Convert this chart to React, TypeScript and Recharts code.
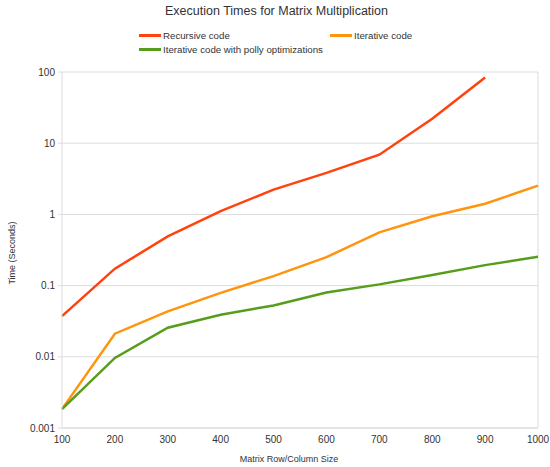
import React from 'react';
import { LineChart, Line, XAxis, YAxis, CartesianGrid, ReferenceLine, Legend } from 'recharts';

const sizes = [100, 200, 300, 400, 500, 600, 700, 800, 900, 1000];
const recursive = [0.0373, 0.173, 0.49, 1.11, 2.23, 3.83, 6.9, 22, 84, null];
const iterative = [0.00184, 0.0211, 0.0435, 0.079, 0.136, 0.251, 0.56, 0.944, 1.41, 2.54];
const polly = [0.00184, 0.00964, 0.0256, 0.039, 0.0527, 0.08, 0.104, 0.1406, 0.194, 0.254];
const yTicks = [0.001, 0.01, 0.1, 1, 10, 100];
const yTickLabels = ['0.001', '0.01', '0.1', '1', '10', '100'];
const seriesNames = ['Recursive code', 'Iterative code', 'Iterative code with polly optimizations'];
const colors = ['#ff420e', '#ff950e', '#579d1c'];

const data = sizes.map((s, i) => ({ size: s, rec: recursive[i], it: iterative[i], pol: polly[i] }));

const FONT = '"Liberation Sans", Arial, sans-serif';

const LegendContent = () => {
  const pos = [
    { left: 139, top: 29 },
    { left: 330, top: 29 },
    { left: 139, top: 43 },
  ];
  return (
    <div style={{ position: 'relative', width: 550, height: 60 }}>
      {seriesNames.map((n, i) => (
        <div key={n} style={{ position: 'absolute', left: pos[i].left, top: pos[i].top, display: 'flex', alignItems: 'center', height: 12, fontFamily: FONT, fontSize: 9.7, color: '#333', whiteSpace: 'nowrap' }}>
          <div style={{ width: 22, height: 3, background: colors[i], marginRight: 2 }} />
          <span>{n}</span>
        </div>
      ))}
    </div>
  );
};

export default function App() {
  return (
    <div style={{ position: 'absolute', left: 0, top: 0, width: 550, height: 467, background: '#fff' }}>
      <div style={{ position: 'absolute', left: 0, top: 3.7, width: 553, textAlign: 'center', fontFamily: FONT, fontSize: 12.5, lineHeight: 'normal', color: '#333' }}>
        Execution Times for Matrix Multiplication
      </div>
      <LineChart width={550} height={467} data={data} margin={{ top: 12, right: 12, bottom: 9, left: 0 }}>
        <CartesianGrid vertical={false} stroke="#dcdcdc" strokeWidth={1} />
        <ReferenceLine x={1000} stroke="#dcdcdc" />
        <XAxis
          dataKey="size"
          type="number"
          domain={[100, 1000]}
          ticks={sizes}
          height={30}
          stroke="#dcdcdc"
          tickLine={false}
          tickSize={4}
          tickMargin={4}
          tick={{ fill: '#333', fontSize: 10, fontFamily: FONT }}
          label={{ value: 'Matrix Row/Column Size', position: 'insideBottom', offset: -4, dx: -11, fill: '#333', fontSize: 9, fontFamily: FONT }}
        />
        <YAxis
          scale="log"
          type="number"
          domain={[0.001, 100]}
          ticks={yTicks}
          allowDataOverflow
          width={62}
          stroke="#dcdcdc"
          tickSize={4}
          tickMargin={3}
          tickFormatter={(v: number) => yTickLabels[yTicks.indexOf(v)] ?? String(v)}
          tick={{ fill: '#333', fontSize: 10, fontFamily: FONT }}
          label={{ value: 'Time (Seconds)', angle: -90, position: 'insideLeft', dx: 7, dy: 3, fill: '#333', fontSize: 9, fontFamily: FONT, style: { textAnchor: 'middle' } }}
        />
        <Legend verticalAlign="top" height={60} content={<LegendContent />} wrapperStyle={{ left: 0, top: 0, width: 550, height: 60 }} />
        <Line type="linear" dataKey="rec" name={seriesNames[0]} stroke={colors[0]} strokeWidth={2.5} dot={false} isAnimationActive={false} />
        <Line type="linear" dataKey="it" name={seriesNames[1]} stroke={colors[1]} strokeWidth={2.5} dot={false} isAnimationActive={false} />
        <Line type="linear" dataKey="pol" name={seriesNames[2]} stroke={colors[2]} strokeWidth={2.5} dot={false} isAnimationActive={false} />
      </LineChart>
    </div>
  );
}
